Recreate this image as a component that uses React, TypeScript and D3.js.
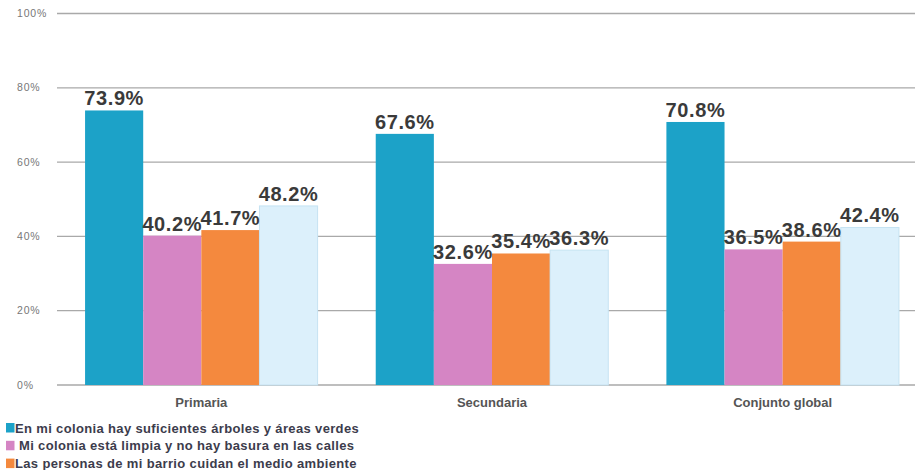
import React, { useEffect } from "react";
import * as d3 from "d3";

const categories = ["Primaria", "Secundaria", "Conjunto global"];
const seriesNames = [
  "En mi colonia hay suficientes árboles y áreas verdes",
  " Mi colonia está limpia y no hay basura en las calles",
  "Las personas de mi barrio cuidan el medio ambiente",
];
const series1 = [73.9, 67.6, 70.8];
const series2 = [40.2, 32.6, 36.5];
const series3 = [41.7, 35.4, 38.6];
const series4 = [48.2, 36.3, 42.4];
const yTicks = [0, 20, 40, 60, 80, 100];
const colors = ["#1ca2c8", "#d585c4", "#f4893e", "#dcf0fb"];

const W = 915;
const H = 470;

export default function App() {
  useEffect(() => {
    document.body.style.margin = "0";
  }, []);

  const allSeries = [series1, series2, series3, series4];
  const x0 = d3
    .scaleBand<string>()
    .domain(categories)
    .range([56, 928])
    .paddingInner(0.2)
    .paddingOuter(0.1);
  const x1 = d3
    .scaleBand<number>()
    .domain(d3.range(allSeries.length))
    .range([0, x0.bandwidth()]);
  const y = d3.scaleLinear().domain([0, 100]).range([385, 13.5]);

  const font = "Liberation Sans, Arial, sans-serif";

  return (
    <svg width={W} height={H} style={{ display: "block", background: "#fff" }} fontFamily={font}>
      {yTicks.map((t) => (
        <g key={t}>
          <line x1={57} x2={W} y1={y(t)} y2={y(t)} stroke="#a9a9a9" strokeWidth={1.3} />
          <text x={17} y={y(t) + 3.5} fontSize={10.5} letterSpacing={0.8} fill="#777">
            {t}%
          </text>
        </g>
      ))}
      {categories.map((c, ci) => (
        <g key={c} transform={`translate(${x0(c)},0)`}>
          {allSeries.map((s, si) => (
            <rect
              key={si}
              x={x1(si)}
              y={y(s[ci])}
              width={x1.bandwidth()}
              height={y(0) - y(s[ci])}
              fill={colors[si]}
              stroke={si === 3 ? "#c6e3f2" : "none"}
              strokeWidth={si === 3 ? 1 : 0}
            />
          ))}
          {allSeries.map((s, si) => (
            <text
              key={"l" + si}
              x={(x1(si) as number) + x1.bandwidth() / 2}
              y={y(s[ci]) - 5}
              textAnchor="middle"
              fontSize={20}
              letterSpacing={0.6}
              fontWeight="bold"
              fill="#3a3a3a"
            >
              {s[ci].toFixed(1)}%
            </text>
          ))}
          <text
            x={x0.bandwidth() / 2}
            y={407}
            textAnchor="middle"
            fontSize={13}
            fontWeight="bold"
            fill="#555"
          >
            {c}
          </text>
        </g>
      ))}
      {seriesNames.map((n, i) => (
        <g key={n} transform={`translate(0,${432.5 + i * 17.8})`}>
          <rect x={6} y={-9.5} width={8.5} height={9.5} fill={colors[i]} />
          <text
            x={15}
            y={0}
            fontSize={13}
            letterSpacing={0.35}
            fontWeight="bold"
            fill="#3c3c4c"
            style={{ whiteSpace: "pre" }}
          >
            {n}
          </text>
        </g>
      ))}
    </svg>
  );
}
